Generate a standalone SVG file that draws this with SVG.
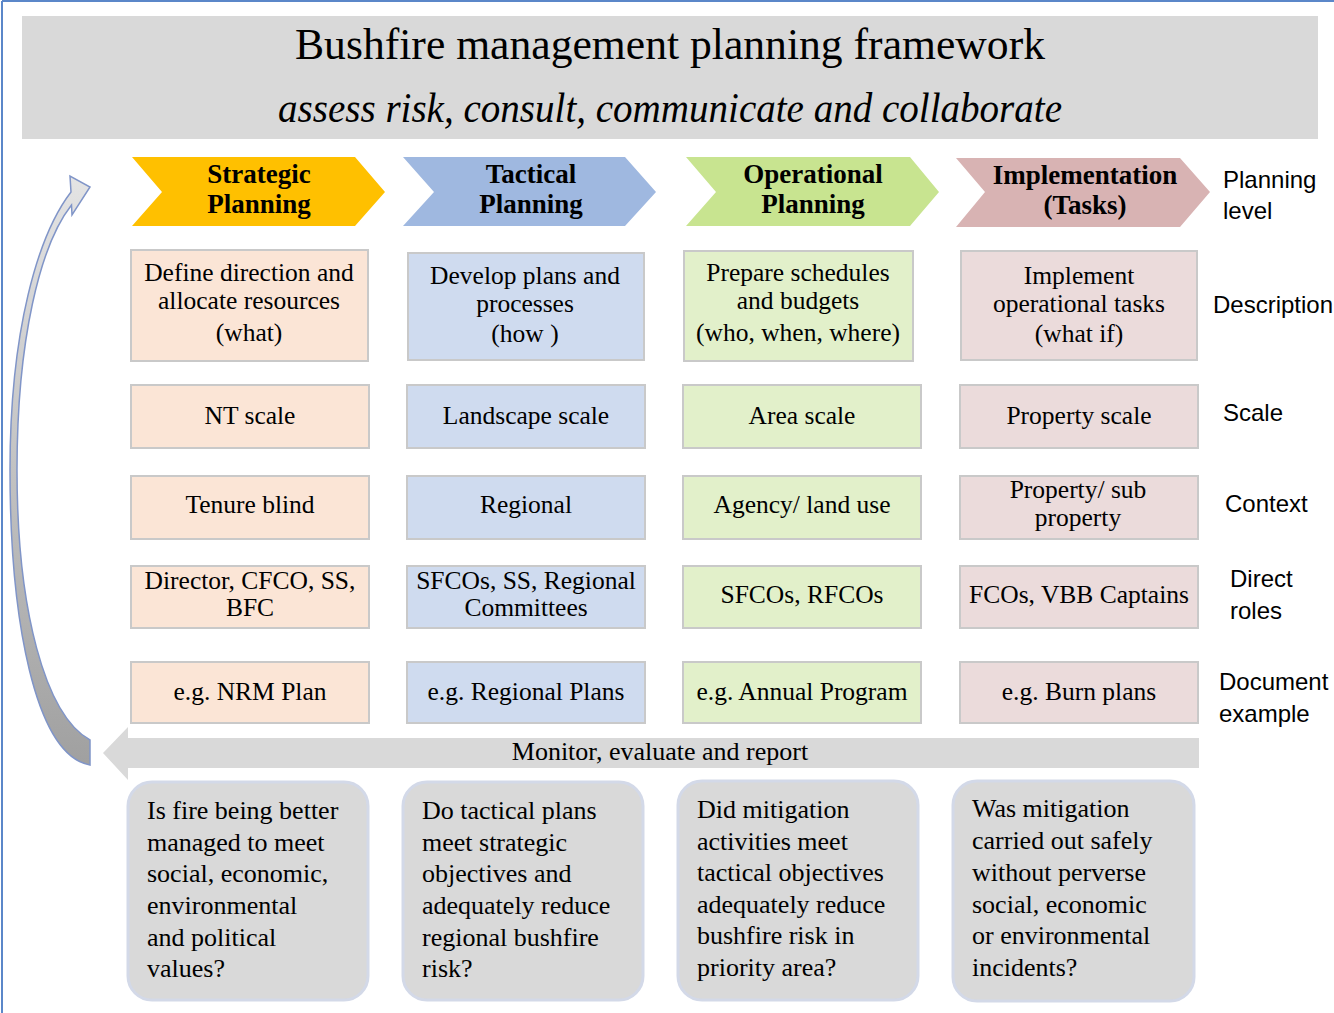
<svg xmlns="http://www.w3.org/2000/svg" width="1334" height="1013" viewBox="0 0 1334 1013">
<defs>
<style>
.sf{font-family:"Liberation Serif","Times New Roman",serif;fill:#000}
.ss{font-family:"Liberation Sans",Arial,sans-serif;fill:#000;font-size:24px}
.hd{font-size:27px;font-weight:bold;text-anchor:middle}
.bx{font-size:25.5px;text-anchor:middle}
.q{font-size:26px}
.c1{fill:#fbe5d6;stroke:#c9c9c9;stroke-width:2}
.c2{fill:#cfdbef;stroke:#c9c9c9;stroke-width:2}
.c3{fill:#e2f0ca;stroke:#c9c9c9;stroke-width:2}
.c4{fill:#ebdbdb;stroke:#c9c9c9;stroke-width:2}
.qb{fill:#d9d9d9;stroke:#d3d9e8;stroke-width:3}
</style>
<linearGradient id="cg" x1="0" y1="1" x2="0" y2="0">
<stop offset="0" stop-color="#a0a0a0"/>
<stop offset="1" stop-color="#e4e4e4"/>
</linearGradient>
</defs>
<rect width="1334" height="1013" fill="#fff"/>
<path d="M2,1 H1334 M2,1 V1013" stroke="#5b87c9" stroke-width="2" fill="none"/>

<g id="title">
<rect x="22" y="16" width="1296" height="123" fill="#d9d9d9"/>
<text class="sf" x="670" y="59" font-size="44" text-anchor="middle" textLength="750" lengthAdjust="spacingAndGlyphs">Bushfire management planning framework</text>
<text class="sf" x="670" y="122" font-size="42" font-style="italic" text-anchor="middle" textLength="784" lengthAdjust="spacingAndGlyphs">assess risk, consult, communicate and collaborate</text>
</g>

<g id="connectors">
<path id="cycle-arrow" d="M90,765 C35,755 10,620 10,470 C10,330 38,235 71,192 L70,176 L90,187 L72,215 L71.5,205 C40,245 17,340 17,470 C17,610 45,715 90,740 Z" fill="url(#cg)" stroke="#8095c8" stroke-width="1.5"/>
<g id="monitor-arrow">
<path d="M103,753 L128,727 L128,738 H1199 V768 H128 V780 Z" fill="#d9d9d9"/>
<text class="sf" x="660" y="760" font-size="26" text-anchor="middle">Monitor, evaluate and report</text>
</g>
</g>

<g id="strategic">
<path d="M132,157 H355 L385,192 L355,226 H132 L162,192 Z" fill="#ffc000"/>
<text class="sf hd" x="259" y="183">Strategic</text>
<text class="sf hd" x="259" y="213">Planning</text>
</g>
<g id="tactical">
<path d="M403,157 H625 L656,192 L625,226 H403 L434,192 Z" fill="#9fb8e0"/>
<text class="sf hd" x="531" y="183">Tactical</text>
<text class="sf hd" x="531" y="213">Planning</text>
</g>
<g id="operational">
<path d="M686,157 H910 L939,192 L910,226 H686 L716,192 Z" fill="#c8e490"/>
<text class="sf hd" x="813" y="183">Operational</text>
<text class="sf hd" x="813" y="213">Planning</text>
</g>
<g id="implementation">
<path d="M956,158 H1180 L1210,192 L1180,227 H956 L985,192 Z" fill="#d8b3b3"/>
<text class="sf hd" x="1085" y="184">Implementation</text>
<text class="sf hd" x="1085" y="214">(Tasks)</text>
</g>

<g id="labels">
<text class="ss" x="1223" y="188">Planning</text>
<text class="ss" x="1223" y="219">level</text>
<text class="ss" x="1213" y="313">Description</text>
<text class="ss" x="1223" y="421">Scale</text>
<text class="ss" x="1225" y="512">Context</text>
<text class="ss" x="1230" y="587">Direct</text>
<text class="ss" x="1230" y="619">roles</text>
<text class="ss" x="1219" y="690">Document</text>
<text class="ss" x="1219" y="722">example</text>
</g>

<g id="desc-strategic"><rect class="c1" x="131" y="250" width="237" height="111"/>
<text class="sf bx" x="249" y="281">Define direction and</text><text class="sf bx" x="249" y="309">allocate resources</text><text class="sf bx" x="249" y="341">(what)</text></g>
<g id="desc-tactical"><rect class="c2" x="408" y="253" width="236" height="107"/>
<text class="sf bx" x="525" y="284">Develop plans and</text><text class="sf bx" x="525" y="312">processes</text><text class="sf bx" x="525" y="342">(how )</text></g>
<g id="desc-operational"><rect class="c3" x="684" y="251" width="229" height="110"/>
<text class="sf bx" x="798" y="281">Prepare schedules</text><text class="sf bx" x="798" y="309">and budgets</text><text class="sf bx" x="798" y="341">(who, when, where)</text></g>
<g id="desc-implementation"><rect class="c4" x="961" y="251" width="236" height="109"/>
<text class="sf bx" x="1079" y="284">Implement</text><text class="sf bx" x="1079" y="312">operational tasks</text><text class="sf bx" x="1079" y="342">(what if)</text></g>

<g id="scale-strategic"><rect class="c1" x="131" y="385" width="238" height="63"/><text class="sf bx" x="250" y="424">NT scale</text></g>
<g id="scale-tactical"><rect class="c2" x="407" y="385" width="238" height="63"/><text class="sf bx" x="526" y="424">Landscape scale</text></g>
<g id="scale-operational"><rect class="c3" x="683" y="385" width="238" height="63"/><text class="sf bx" x="802" y="424">Area scale</text></g>
<g id="scale-implementation"><rect class="c4" x="960" y="385" width="238" height="63"/><text class="sf bx" x="1079" y="424">Property scale</text></g>

<g id="context-strategic"><rect class="c1" x="131" y="476" width="238" height="63"/><text class="sf bx" x="250" y="513">Tenure blind</text></g>
<g id="context-tactical"><rect class="c2" x="407" y="476" width="238" height="63"/><text class="sf bx" x="526" y="513">Regional</text></g>
<g id="context-operational"><rect class="c3" x="683" y="476" width="238" height="63"/><text class="sf bx" x="802" y="513">Agency/ land use</text></g>
<g id="context-implementation"><rect class="c4" x="960" y="476" width="238" height="63"/><text class="sf bx" x="1078" y="498">Property/ sub</text><text class="sf bx" x="1078" y="526">property</text></g>

<g id="roles-strategic"><rect class="c1" x="131" y="566" width="238" height="62"/><text class="sf bx" x="250" y="589">Director, CFCO, SS,</text><text class="sf bx" x="250" y="616">BFC</text></g>
<g id="roles-tactical"><rect class="c2" x="407" y="566" width="238" height="62"/><text class="sf bx" x="526" y="589">SFCOs, SS, Regional</text><text class="sf bx" x="526" y="616">Committees</text></g>
<g id="roles-operational"><rect class="c3" x="683" y="566" width="238" height="62"/><text class="sf bx" x="802" y="603">SFCOs, RFCOs</text></g>
<g id="roles-implementation"><rect class="c4" x="960" y="566" width="238" height="62"/><text class="sf bx" x="1079" y="603">FCOs, VBB Captains</text></g>

<g id="doc-strategic"><rect class="c1" x="131" y="662" width="238" height="61"/><text class="sf bx" x="250" y="700">e.g. NRM Plan</text></g>
<g id="doc-tactical"><rect class="c2" x="407" y="662" width="238" height="61"/><text class="sf bx" x="526" y="700">e.g. Regional Plans</text></g>
<g id="doc-operational"><rect class="c3" x="683" y="662" width="238" height="61"/><text class="sf bx" x="802" y="700">e.g. Annual Program</text></g>
<g id="doc-implementation"><rect class="c4" x="960" y="662" width="238" height="61"/><text class="sf bx" x="1079" y="700">e.g. Burn plans</text></g>

<g id="q-strategic"><rect class="qb" x="128" y="782" width="240" height="218" rx="24"/>
<text class="sf q" x="147" y="819">Is fire being better</text><text class="sf q" x="147" y="851">managed to meet</text><text class="sf q" x="147" y="882">social, economic,</text><text class="sf q" x="147" y="914">environmental</text><text class="sf q" x="147" y="946">and political</text><text class="sf q" x="147" y="977">values?</text></g>
<g id="q-tactical"><rect class="qb" x="403" y="782" width="240" height="218" rx="24"/>
<text class="sf q" x="422" y="819">Do tactical  plans</text><text class="sf q" x="422" y="851">meet strategic</text><text class="sf q" x="422" y="882">objectives and</text><text class="sf q" x="422" y="914">adequately reduce</text><text class="sf q" x="422" y="946">regional bushfire</text><text class="sf q" x="422" y="977">risk?</text></g>
<g id="q-operational"><rect class="qb" x="678" y="781" width="240" height="219" rx="24"/>
<text class="sf q" x="697" y="818">Did mitigation</text><text class="sf q" x="697" y="850">activities  meet</text><text class="sf q" x="697" y="881">tactical objectives</text><text class="sf q" x="697" y="913">adequately reduce</text><text class="sf q" x="697" y="944">bushfire risk  in</text><text class="sf q" x="697" y="976">priority area?</text></g>
<g id="q-implementation"><rect class="qb" x="953" y="781" width="241" height="220" rx="24"/>
<text class="sf q" x="972" y="817">Was mitigation</text><text class="sf q" x="972" y="849">carried  out safely</text><text class="sf q" x="972" y="881">without perverse</text><text class="sf q" x="972" y="913">social, economic</text><text class="sf q" x="972" y="944">or environmental</text><text class="sf q" x="972" y="976">incidents?</text></g>
</svg>
